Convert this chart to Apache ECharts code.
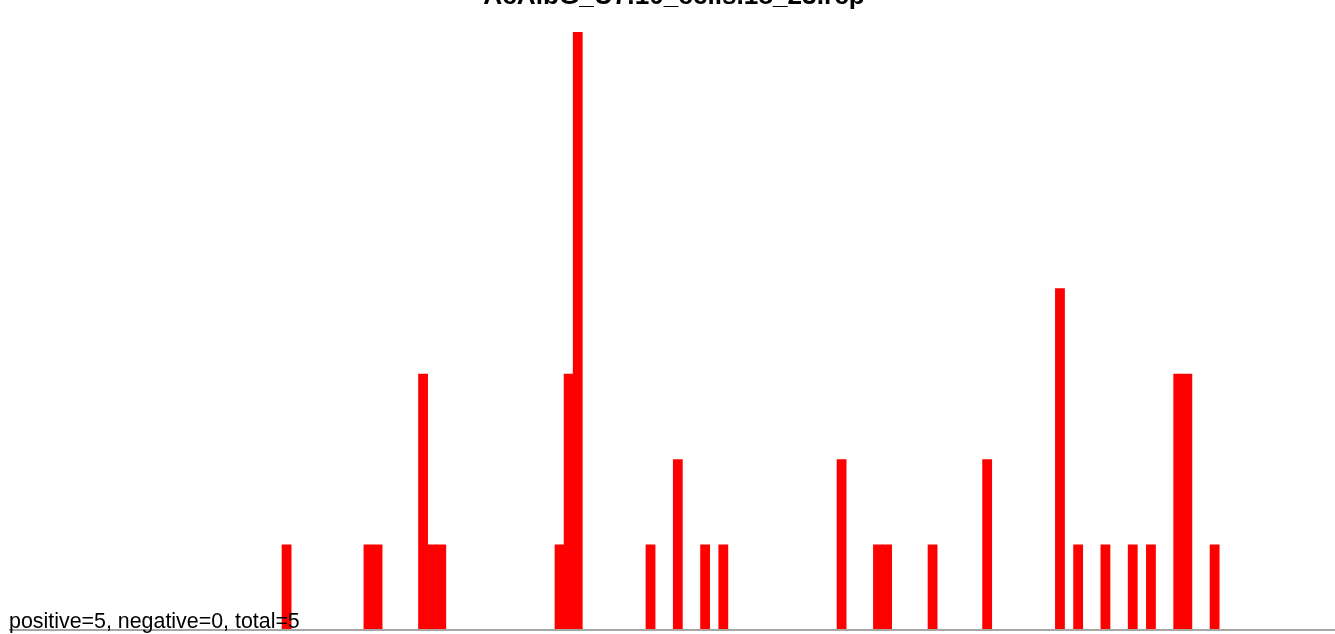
<!DOCTYPE html>
<html>
<head>
<meta charset="utf-8">
<script src="https://cdn.jsdelivr.net/npm/echarts@6/dist/echarts.min.js"></script>
<style>
html,body{margin:0;padding:0;background:#fff;}
#chart{width:1335px;height:634px;}
</style>
</head>
<body>
<div id="chart"></div>
<script>
// Bin indices (histogram positions) and counts
const bins   = [31, 40, 41, 46, 47, 48, 61, 62, 63, 71, 74, 77, 79, 92, 96, 97, 102, 108, 116, 118, 121, 124, 126, 129, 130, 133];
const counts = [ 1,  1,  1,  3,  1,  1,  1,  3,  7,  1,  2,  1,  1,  2,  1,  1,   1,   2,   4,   1,   1,   1,   1,   3,   3,   1];
const titleText = 'AcAlbG_U7.10_cells.18_23.rcp';
const footerText = 'positive=5, negative=0, total=5';
const xMin = 1.1, xMax = 146.73, yMax = 7;

const data = bins.map((b, i) => [b + 0.5, counts[i]]);
const chart = echarts.init(document.getElementById('chart'), null, {renderer: 'canvas'});
const FONT = '"Liberation Sans", Arial, Helvetica, sans-serif';
chart.setOption({
  animation: false,
  backgroundColor: '#ffffff',
  grid: {left: 10, right: 0, top: 32, bottom: 4, containLabel: false},
  xAxis: {
    type: 'value', min: xMin, max: xMax, z: 3,
    axisLine: {show: true, onZero: false, lineStyle: {color: '#a6a6a6', width: 2}},
    axisTick: {show: false}, axisLabel: {show: false}, splitLine: {show: false}
  },
  yAxis: {
    type: 'value', min: 0, max: yMax,
    axisLine: {show: false}, axisTick: {show: false}, axisLabel: {show: false}, splitLine: {show: false}
  },
  series: [{
    type: 'bar',
    data: data,
    barWidth: 9.8,
    itemStyle: {color: '#ff0000'},
    z: 2
  }],
  graphic: [
    {type: 'text', x: 674, y: -3, z: 10,
     style: {text: titleText, font: 'bold 26.2px ' + FONT, fill: '#000', textAlign: 'center', textVerticalAlign: 'middle'}},
    {type: 'text', x: 9, y: 633, z: 10,
     style: {text: footerText, font: '21.4px ' + FONT, fill: '#000', textAlign: 'left', textVerticalAlign: 'bottom'}}
  ]
});
</script>
</body>
</html>
